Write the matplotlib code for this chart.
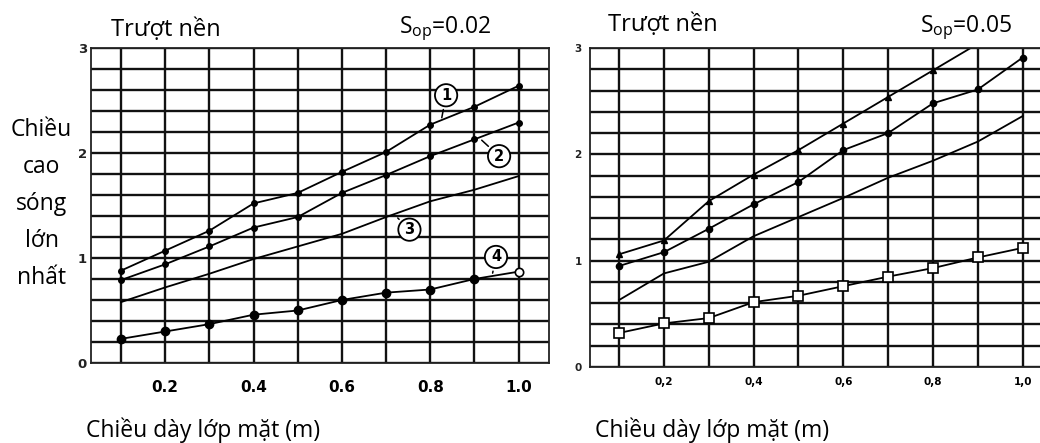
import matplotlib.pyplot as plt
from matplotlib.ticker import MultipleLocator

plt.rcParams['font.family'] = ['Open Sans', 'DejaVu Sans']

# so lieu doc tu hinh
x = [0.1, 0.2, 0.3, 0.4, 0.5, 0.6, 0.7, 0.8, 0.9, 1.0]

# S_op = 0.02
l1 = [0.88, 1.07, 1.26, 1.52, 1.62, 1.82, 2.01, 2.27, 2.44, 2.64]
l2 = [0.79, 0.94, 1.11, 1.29, 1.39, 1.62, 1.79, 1.97, 2.13, 2.29]
l3 = [0.58, 0.72, 0.85, 0.99, 1.11, 1.23, 1.39, 1.54, 1.65, 1.78]
l4 = [0.23, 0.30, 0.37, 0.46, 0.50, 0.60, 0.67, 0.70, 0.80, 0.87]

# S_op = 0.05
r1 = [1.06, 1.19, 1.56, 1.81, 2.04, 2.29, 2.54, 2.79, 3.04]
r2 = [0.95, 1.08, 1.30, 1.53, 1.74, 2.04, 2.20, 2.48, 2.61, 2.91]
r3 = [0.63, 0.88, 0.99, 1.23, 1.41, 1.59, 1.78, 1.94, 2.12, 2.36]
r4 = [0.32, 0.41, 0.46, 0.61, 0.67, 0.76, 0.85, 0.93, 1.03, 1.12]

xticks = [0.2, 0.4, 0.6, 0.8, 1.0]
xlab_left = ['0.2', '0.4', '0.6', '0.8', '1.0']
xlab_right = ['0,2', '0,4', '0,6', '0,8', '1,0']
yticks = [0, 1, 2, 3]

# nhan so tren duong cong: (so, vi tri nhan, diem tren duong)
tags = [('1', (0.836, 2.55), (0.825, 2.31)),
        ('2', (0.956, 1.97), (0.912, 2.14)),
        ('3', (0.753, 1.27), (0.722, 1.40)),
        ('4', (0.949, 1.01), (0.940, 0.83))]

fig = plt.figure(figsize=(10.4, 4.43), dpi=100)
axL = fig.add_axes([0.0875, 0.1806, 0.4404, 0.7110])
axR = fig.add_axes([0.5673, 0.1716, 0.4462, 0.7200])


def setup(ax, xlim, labels, lsize, ysize, xpad, ypad):
    ax.set_xlim(*xlim)
    ax.set_ylim(0, 3)
    ax.set_xticks(xticks)
    ax.set_xticklabels(labels, fontsize=lsize, fontweight='bold',
                       family='DejaVu Sans')
    ax.xaxis.set_minor_locator(MultipleLocator(0.1))
    ax.set_yticks(yticks)
    ax.set_yticklabels([str(v) for v in yticks], fontsize=ysize,
                       fontweight='bold', family='DejaVu Sans', color='#222')
    ax.yaxis.set_minor_locator(MultipleLocator(0.2))
    ax.tick_params(which='both', length=0)
    ax.tick_params(axis='x', pad=xpad)
    ax.tick_params(axis='y', pad=ypad)
    ax.grid(True, which='both', color='#111', lw=1.7)
    for s in ax.spines.values():
        s.set_linewidth(1.3)
        s.set_color('#222')
    ax.set_axisbelow(True)


setup(axL, (0.032, 1.069), xlab_left, 11, 9.5, 12, 3)
setup(axR, (0.035, 1.07), xlab_right, 7.5, 7.5, 7, 6)

kw = dict(color='black', lw=1.3)
axL.plot(x, l1, marker='o', ms=4, **kw)
axL.plot(x, l2, marker='o', ms=4, **kw)
axL.plot(x, l3, **kw)
axL.plot(x[:-1], l4[:-1], marker='o', ms=6, **kw)
axL.plot(x[-2:], l4[-2:], **kw)
axL.plot(x[-1], l4[-1], marker='o', ms=6, mfc='white', mec='black', mew=1.2)

for t, pos, xy in tags:
    axL.annotate(t, xy=xy, xytext=pos, ha='center', va='center',
                 fontsize=10.5, fontweight='bold', family='DejaVu Sans',
                 bbox=dict(boxstyle='circle,pad=0.25', fc='white', ec='black', lw=1.3),
                 arrowprops=dict(arrowstyle='-', color='black', lw=1.1))

axR.plot(x[:len(r1)], r1, marker='^', ms=5, **kw)
axR.plot(x, r2, marker='o', ms=4.5, **kw)
axR.plot(x, r3, **kw)
axR.plot(x, r4, marker='s', ms=7, mfc='white', mec='black', mew=1.2, **kw)

fig.text(0.159, 0.932, 'Trượt nền', fontsize=17, ha='center', va='center')
fig.text(0.428, 0.935, r'$\mathregular{S_{op}}$=0.02', fontsize=16.5,
         ha='center', va='center')
fig.text(0.637, 0.944, 'Trượt nền', fontsize=17, ha='center', va='center')
fig.text(0.929, 0.937, r'$\mathregular{S_{op}}$=0.05', fontsize=16.5,
         ha='center', va='center')

fig.text(0.040, 0.540, 'Chiều\ncao\nsóng\nlớn\nnhất', fontsize=16.5,
         ha='center', va='center', linespacing=1.72)

fig.text(0.195, 0.029, 'Chiều dày lớp mặt (m)', fontsize=16.5,
         ha='center', va='center')
fig.text(0.685, 0.029, 'Chiều dày lớp mặt (m)', fontsize=16.5,
         ha='center', va='center')

fig.savefig('out.png', dpi=100)
